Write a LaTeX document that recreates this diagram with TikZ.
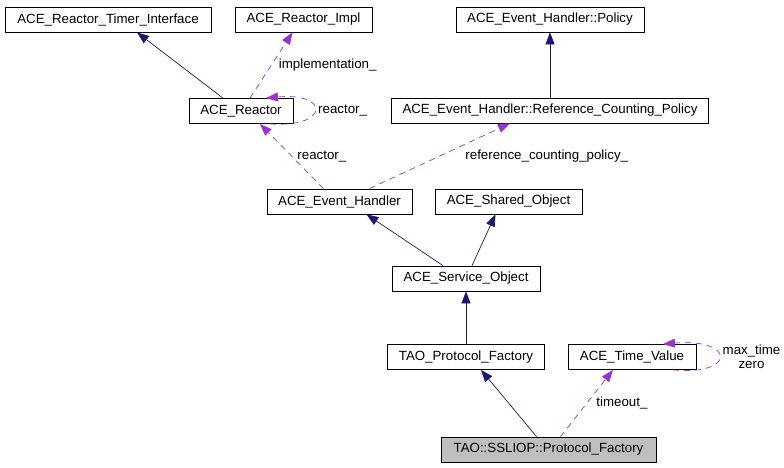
\documentclass[tikz,border=0pt]{standalone}
\usepackage{fontspec}
\setmainfont{Liberation Sans}
\usetikzlibrary{shapes,arrows.meta,positioning}
\definecolor{inhblue}{RGB}{25,25,112}
\definecolor{usepurple}{RGB}{154,50,205}
\definecolor{boxgray}{RGB}{191,191,191}

\begin{document}
\begin{tikzpicture}[x=1pt, y=-1pt, font=\fontsize{13.3}{14}\selectfont,
  cls/.style={rectangle, draw, line width=0.8pt, minimum height=25pt, inner sep=0pt},
  inh/.style={-{Triangle[length=12pt,width=9pt,fill=inhblue]}, draw=inhblue, line width=0.7pt},
  usage/.style={-{Triangle[length=12pt,width=9pt,fill=usepurple]}, draw=usepurple, line width=0.7pt, dash pattern=on 6pt off 5pt}]
\useasboundingbox (0,0) rectangle (784,467);

% classes
\node[cls, minimum width=206pt] (rti) at (108,19.5) {ACE\_Reactor\_Timer\_Interface};
\node[cls, minimum width=137pt] (rimpl) at (303.5,19.5) {ACE\_Reactor\_Impl};
\node[cls, minimum width=188pt] (policy) at (550,19.5) {ACE\_Event\_Handler::Policy};
\node[cls, minimum width=104pt] (reactor) at (241,111) {ACE\_Reactor};
\node[cls, minimum width=317pt] (rcp) at (550,110.5) {ACE\_Event\_Handler::Reference\_Counting\_Policy};
\node[cls, minimum width=145pt] (eh) at (339.5,201.5) {ACE\_Event\_Handler};
\node[cls, minimum width=147pt] (so) at (508.5,201.5) {ACE\_Shared\_Object};
\node[cls, minimum width=148pt] (svc) at (466,278.5) {ACE\_Service\_Object};
\node[cls, minimum width=157pt] (tpf) at (466,357) {TAO\_Protocol\_Factory};
\node[cls, minimum width=128pt] (tv) at (632,357) {ACE\_Time\_Value};
\node[cls, minimum width=215pt, fill=boxgray] (ssl) at (548.5,449.5) {TAO::SSLIOP::Protocol\_Factory};

% inheritance
\draw[inh] ([xshift=-18pt]reactor.north) -- ([xshift=29pt]rti.south);
\draw[inh] (rcp.north) -- (policy.south);
\draw[inh] ([xshift=-23pt]svc.north) -- ([xshift=27pt]eh.south);
\draw[inh] ([xshift=6pt]svc.north) -- ([xshift=-13pt]so.south);
\draw[inh] (tpf.north) -- (svc.south);
\draw[inh] ([xshift=-12pt]ssl.north) -- ([xshift=15pt]tpf.south);

% usage
\draw[usage] ([xshift=9pt]reactor.north) -- node[right=4pt] {implementation\_} ([xshift=-11pt]rimpl.south);
\draw[usage] ([xshift=29pt]reactor.south) .. controls (330,128) and (330,92) .. node[right] {reactor\_} ([xshift=25pt]reactor.north);
\draw[usage] ([xshift=-16pt]eh.north) -- node[right=2pt] {reactor\_} ([xshift=19pt]reactor.south);
\draw[usage] ([xshift=30pt]eh.north) -- node[right=22pt] {reference\_counting\_policy\_} ([xshift=-40pt]rcp.south);
\draw[usage] ([xshift=12pt]ssl.north) -- node[right=6pt] {timeout\_} ([xshift=-19pt]tv.south);
\draw[usage] ([xshift=41pt]tv.south) .. controls (736,376) and (736,338) .. node[right, align=center] {max\_time\\zero} ([xshift=31pt]tv.north);
\end{tikzpicture}
\end{document}
